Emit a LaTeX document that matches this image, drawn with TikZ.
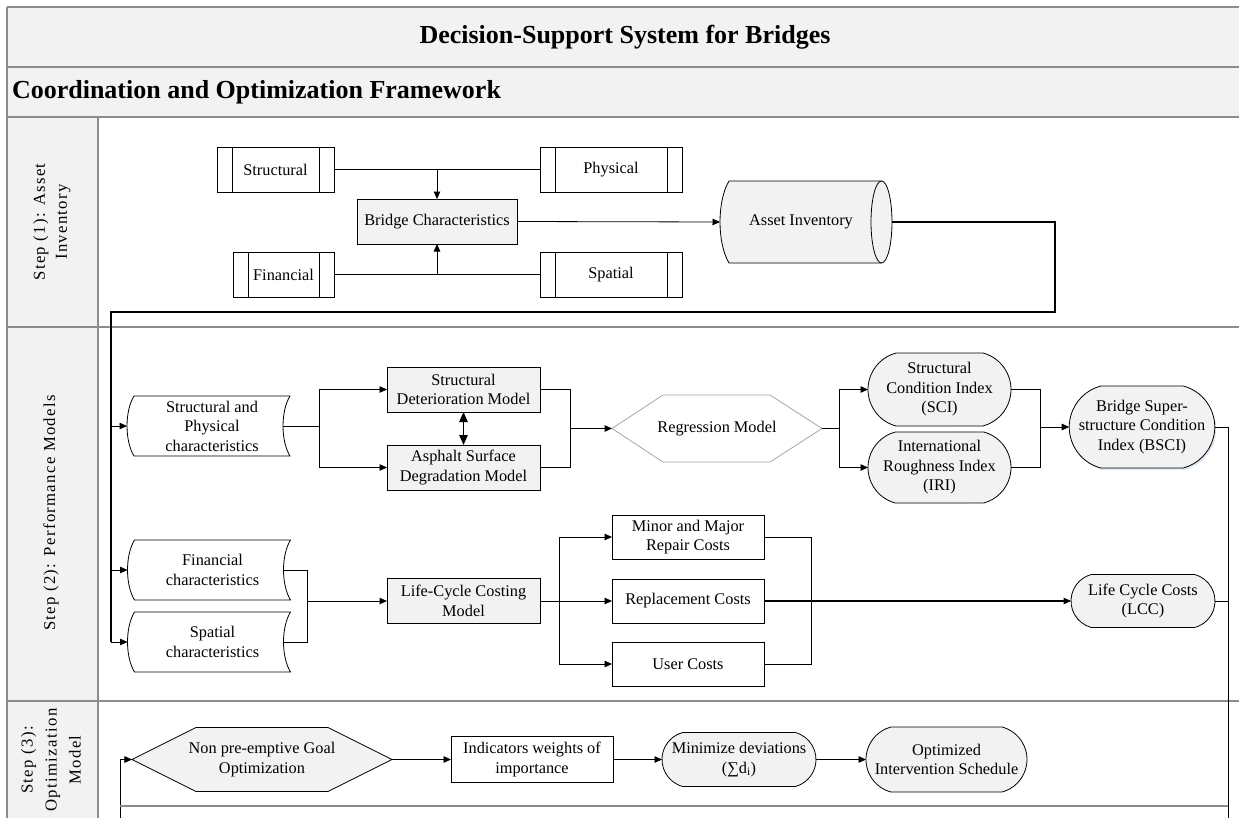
\documentclass[tikz,border=0pt]{standalone}
\usepackage{fontspec}
\setmainfont{Liberation Serif}
\newfontfamily\lanefont[LetterSpace=8]{Liberation Serif}
\usetikzlibrary{arrows.meta,shapes.misc,calc,shadows}
\definecolor{boxgray}{HTML}{F2F2F2}
\definecolor{lanegray}{HTML}{8C8C8C}
\definecolor{hexgray}{HTML}{A6A6A6}
\definecolor{glow}{HTML}{DDE8F4}
\pgfdeclarelayer{bg}
\pgfdeclarelayer{shp}
\pgfsetlayers{bg,shp,main}
\begin{document}
\begin{tikzpicture}[x=1bp,y=-1bp,
  every node/.style={font=\fontsize{16.3bp}{19.5bp}\selectfont, inner sep=0pt, outer sep=0pt, align=center},
  bx/.style={draw=black, line width=0.8bp, rectangle, minimum height=45bp},
  gbox/.style={bx, fill=boxgray},
  wbox/.style={bx, fill=white},
  term/.style={draw=black, line width=0.8bp, fill=boxgray, rounded rectangle, rounded rectangle arc length=150},
  ghost/.style={rectangle, draw=none},
  ln/.style={line width=0.8bp, draw=black},
  arr/.style={ln, -{Triangle[length=7.5bp,width=6.5bp]}},
  loopln/.style={line width=1.4bp, draw=black},
  laneln/.style={line width=1.2bp, draw=lanegray},
  lanelabel/.style={rotate=90, font=\lanefont\fontsize{16.7bp}{22bp}\selectfont},
  titlefont/.style={font=\fontsize{26bp}{30bp}\selectfont\bfseries},
]
\useasboundingbox (0,0) rectangle (1239,818);
\clip (0,0) rectangle (1239,818);

% ---------- background lanes ----------
\begin{pgfonlayer}{bg}
  \fill[white] (0,0) rectangle (1239,818);
  \fill[boxgray] (7,7) rectangle (1245,117);
  \fill[boxgray] (7,117) rectangle (98,830);
  \draw[laneln] (7,7) -- (1245,7);
  \draw[laneln] (7,7) -- (7,830);
  \draw[laneln] (7,67) -- (1245,67);
  \draw[laneln] (7,117) -- (1245,117);
  \draw[laneln] (7,327) -- (1245,327);
  \draw[laneln] (7,701) -- (1245,701);
  \draw[laneln] (98,117) -- (98,830);
\end{pgfonlayer}

% ---------- titles ----------
\node[titlefont] (title) at (625,37) {Decision-Support System for Bridges};
\node[titlefont, anchor=west] (subtitle) at (12,92) {Coordination and Optimization Framework};
\node[lanelabel] (lane1) at (52,222) {Step (1): Asset\\Inventory};
\node[lanelabel] (lane2) at (51,513) {Step (2): Performance Models};
\node[lanelabel, font=\lanefont\fontsize{16.7bp}{24bp}\selectfont] (lane3) at (51,760) {Step (3):\\Optimization\\Model};

% ---------- Step 1 ----------
\node[wbox, minimum width=117bp] (struct) at (275.5,169.5) {Structural};
\node[wbox, minimum width=142bp] (phys) at (611,169.5) {Physical};
\node[wbox, minimum width=101bp] (fin) at (283.5,274.5) {Financial};
\node[wbox, minimum width=142bp] (spat) at (611,274.5) {Spatial};
\node[gbox, minimum width=160bp] (bc) at (437,221.5) {Bridge Characteristics};
\foreach \n in {struct,phys,fin,spat}{
  \draw[ln] ([xshift=15bp]\n.north west) -- ([xshift=15bp]\n.south west);
  \draw[ln] ([xshift=-15bp]\n.north east) -- ([xshift=-15bp]\n.south east);
}
\draw[ln] (struct.east) -- (phys.west);
\draw[arr] (bc.north |- struct.east) -- (bc.north);
\draw[ln] (fin.east) -- (spat.west);
\draw[arr] (bc.south |- fin.east) -- (bc.south);

\node[ghost, minimum width=172bp, minimum height=82bp] (ai) at (806,222) {};
\begin{pgfonlayer}{shp}
  \fill[boxgray] ($(ai.north west)+(9,0)$) -- ($(ai.north east)+(-10.5,0)$) -- ($(ai.south east)+(-10.5,0)$) -- ($(ai.south west)+(9,0)$) .. controls +(-12,-20) and +(-12,20) .. ($(ai.north west)+(9,0)$) -- cycle;
  \draw[ln] ($(ai.north east)+(-10.5,0)$) -- ($(ai.north west)+(9,0)$) .. controls +(-12,20) and +(-12,-20) .. ($(ai.south west)+(9,0)$) -- ($(ai.south east)+(-10.5,0)$);
  \filldraw[ln, fill=boxgray] ($(ai.east)+(-10.5,0)$) ellipse [x radius=10.5bp, y radius=41bp];
\end{pgfonlayer}
\node (aitext) at (801,222) {Asset Inventory};
\draw[arr] (bc.east) -- (ai.west);

% loop from Asset Inventory into Step 2
\coordinate (la) at (1055,222);
\coordinate (lb) at (1055,312);
\coordinate (lc) at (111,312);
\coordinate (ld) at (111,642);
\draw[loopln] (ai.east) -- (la) -- (lb) -- (lc) -- (ld);

% ---------- Step 2 ----------
\node[ghost, minimum width=156bp, minimum height=60bp] (spd) at (212,426) {Structural and\\Physical\\characteristics};
\node[ghost, minimum width=156bp, minimum height=60bp] (fcd) at (212.5,570) {Financial\\characteristics};
\node[ghost, minimum width=156bp, minimum height=60bp] (scd) at (212.5,642) {Spatial\\characteristics};
\begin{pgfonlayer}{shp}
\foreach \n in {spd,fcd,scd}{
  \filldraw[ln, fill=white] (\n.north west) -- (\n.north east) .. controls +(-9.3,15) and +(-9.3,-15) .. (\n.south east) -- (\n.south west) .. controls +(-9.3,-15) and +(-9.3,15) .. (\n.north west) -- cycle;
}
\end{pgfonlayer}
\draw[arr] (lc |- spd.west) -- ($(spd.west)+(-7,0)$);
\draw[arr] (lc |- fcd.west) -- ($(fcd.west)+(-7,0)$);
\draw[arr] (ld) -- ($(scd.west)+(-7,0)$);

\node[gbox, minimum width=153bp] (sdm) at (463.5,389.5) {Structural\\Deterioration Model};
\node[gbox, minimum width=153bp] (asdm) at (463.5,467.5) {Asphalt Surface\\Degradation Model};
\coordinate (s1) at (319,426);
\draw[ln] ($(spd.east)+(-7,0)$) -- (s1);
\draw[arr] (s1) |- (sdm.west);
\draw[arr] (s1) |- (asdm.west);
\draw[line width=1.1bp, {Triangle[length=10bp,width=8.5bp]}-{Triangle[length=10bp,width=8.5bp]}] (sdm.south) -- (asdm.north);

\node[ghost, minimum width=210bp, minimum height=67bp] (reg) at (717,428.5) {Regression Model};
\begin{pgfonlayer}{shp}
  \filldraw[line width=0.8bp, draw=hexgray, fill=white] (reg.west) -- ($(reg.north west)+(51,0)$) -- ($(reg.north east)+(-52,0)$) -- (reg.east) -- ($(reg.south east)+(-52,0)$) -- ($(reg.south west)+(51,0)$) -- cycle;
\end{pgfonlayer}
\coordinate (s2) at (570,428.5);
\draw[ln] (sdm.east) -| (s2);
\draw[ln] (asdm.east) -| (s2);
\draw[arr, line width=1.2bp] (s2) -- (reg.west);

\node[term, minimum width=143bp, minimum height=73bp] (sci) at (939.5,389.5) {Structural\\Condition Index\\(SCI)};
\node[term, minimum width=143bp, minimum height=71bp] (iri) at (939.5,467.5) {International\\Roughness Index\\(IRI)};
\coordinate (s3) at (839,428.5);
\draw[ln] (reg.east) -- (s3);
\draw[arr] (s3) |- (sci.west);
\draw[arr] (s3) |- (iri.west);

\node[term, minimum width=142bp, minimum height=82bp, drop shadow={shadow xshift=1.5bp, shadow yshift=-2bp, fill=glow, opacity=1}] (bsci) at (1142,427) {Bridge Super-\\structure Condition\\Index (BSCI)};
\coordinate (s4) at (1040,427);
\draw[ln] (sci.east) -| (s4);
\draw[ln] (iri.east) -| (s4);
\draw[arr] (s4) -- (bsci.west);

\node[gbox, minimum width=153bp] (lcm) at (463.5,601) {Life-Cycle Costing\\Model};
\coordinate (s5) at (307,601);
\draw[ln] ($(fcd.east)+(-7,0)$) -| (s5);
\draw[ln] ($(scd.east)+(-7,0)$) -| (s5);
\draw[arr, line width=1bp] (s5) -- (lcm.west);

\node[wbox, minimum width=152bp, minimum height=44bp] (mm) at (688,537) {Minor and Major\\Repair Costs};
\node[wbox, minimum width=152bp, minimum height=44bp] (rc) at (688,601) {Replacement Costs};
\node[wbox, minimum width=152bp, minimum height=44bp] (uc) at (688,664) {User Costs};
\coordinate (s6) at (559,601);
\draw[ln] (lcm.east) -- (s6);
\draw[arr] (s6) |- (mm.west);
\draw[arr] (s6) -- (rc.west);
\draw[arr] (s6) |- (uc.west);

\node[term, minimum width=144bp, minimum height=53bp] (lcc) at (1143,601) {Life Cycle Costs\\(LCC)};
\coordinate (s7) at (811,601);
\draw[ln] (mm.east) -| (s7);
\draw[ln] (uc.east) -| (s7);
\draw[arr, line width=1.1bp] (rc.east) -- (lcc.west);

% loop from BSCI / LCC down to Step 3
\coordinate (r1) at (1228,427);
\coordinate (r2) at (1228,830);
\draw[ln] (bsci.east) -- (r1) -- (r2);
\draw[ln] (lcc.east) -- (lcc.east -| r1);

% ---------- Step 3 ----------
\node[ghost, minimum width=260bp, minimum height=64bp] (npg) at (262,759.5) {Non pre-emptive Goal\\Optimization};
\begin{pgfonlayer}{shp}
  \filldraw[ln, fill=boxgray] (npg.west) -- ($(npg.north west)+(64,0)$) -- ($(npg.north east)+(-64,0)$) -- (npg.east) -- ($(npg.south east)+(-64,0)$) -- ($(npg.south west)+(64,0)$) -- cycle;
\end{pgfonlayer}
\node[wbox, minimum width=162bp, minimum height=46bp] (ind) at (532,759.5) {Indicators weights of\\importance};
\node[term, minimum width=154bp, minimum height=54bp] (minz) at (739,759.5) {Minimize deviations\\(∑d\textsubscript{i})};
\node[term, minimum width=161bp, minimum height=65bp] (opt) at (946.5,759.5) {Optimized\\Intervention Schedule};
\draw[arr] (npg.east) -- (ind.west);
\draw[arr] (ind.east) -- (minz.west);
\draw[arr] (minz.east) -- (opt.west);

\coordinate (q1) at (120,830);
\coordinate (q2) at (120,759.5);
\draw[arr] (q1) -- (q2) -- (npg.west);
\draw[laneln] (q2 |- 0,806) -- (r1 |- 0,806);
\end{tikzpicture}
\end{document}
